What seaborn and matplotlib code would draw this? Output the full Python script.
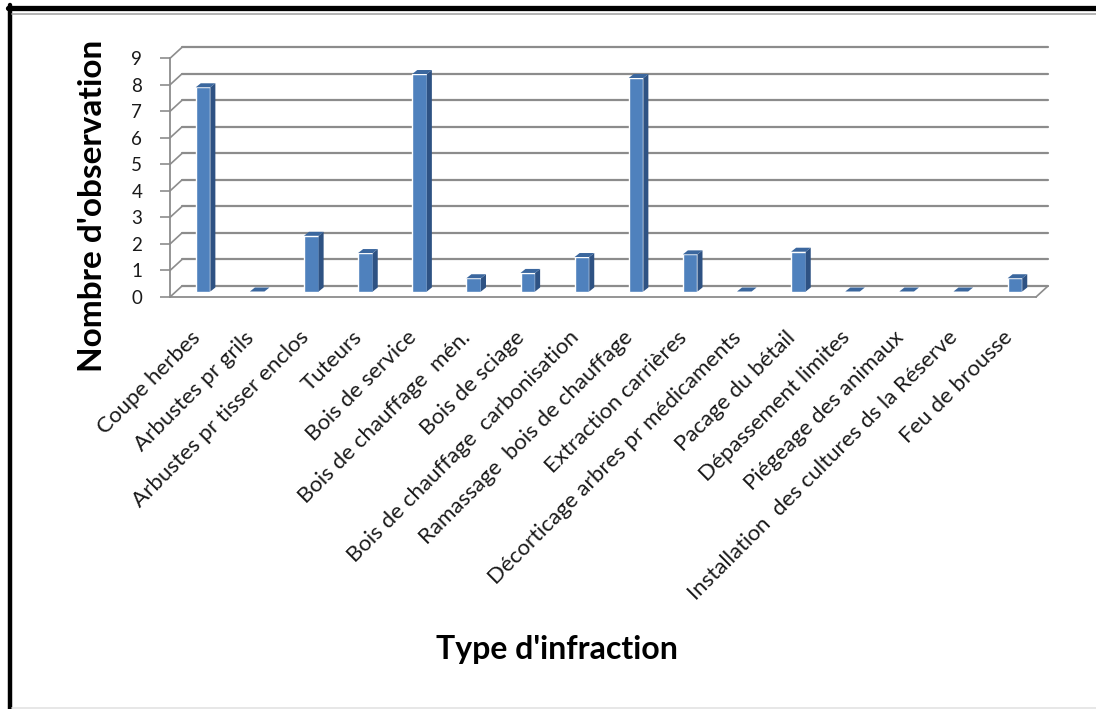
import numpy as np
import pandas as pd
import matplotlib
matplotlib.use('Agg')
import matplotlib.pyplot as plt
import seaborn as sns
from matplotlib.patches import Polygon
from matplotlib.lines import Line2D

# infractions observed
categories = ['Coupe herbes', 'Arbustes pr grils', 'Arbustes pr tisser enclos', 'Tuteurs',
              'Bois de service', 'Bois de chauffage  mén.', 'Bois de sciage',
              'Bois de chauffage  carbonisation', 'Ramassage  bois de chauffage',
              'Extraction carrières', 'Décorticage arbres pr médicaments', 'Pacage du bétail',
              'Dépassement limites', 'Piégeage des animaux',
              'Installation  des cultures ds la Réserve', 'Feu de brousse']
values = [7.7, 0, 2.1, 1.45, 8.2, 0.5, 0.7, 1.3, 8.05, 1.4, 0, 1.5, 0, 0, 0, 0.5]
yticks = list(range(10))

front = '#4F81BD'
side = '#2E5283'
top = '#3B679E'
grid_c = '#8C8C8C'

sns.set_style('white')
plt.rcParams['font.family'] = ['Lato', 'DejaVu Sans']

W, H = 1096, 709
fig = plt.figure(figsize=(W / 100, H / 100), dpi=100)
ax = fig.add_axes([170 / W, 1 - 297 / H, 866 / W, 238.7 / H])

df = pd.DataFrame({'cat': categories, 'val': values})
sns.barplot(data=df, x='cat', y='val', color=front, saturation=1, width=0.27, ax=ax)

ax.set_xlim(-0.5, len(categories) - 0.5)
ax.set_ylim(0, 9)

# depth of the fake 3d box (px -> data units)
px_x = (len(categories)) / 866
px_y = 9 / 238.7
dx, dy = 12 * px_x, 11 * px_y
bdx, bdy = 5 * px_x, 4 * px_y

# back wall gridlines + connectors to the front axis
for v in yticks:
    ax.plot([-0.5 + dx, len(categories) - 0.5 + dx], [v + dy, v + dy],
            color=grid_c, lw=1.6, clip_on=False, zorder=0)
    ax.plot([-0.5, -0.5 + dx], [v, v + dy], color=grid_c, lw=1.2, clip_on=False, zorder=0)
ax.plot([len(categories) - 0.5, len(categories) - 0.5 + dx], [0, dy],
        color=grid_c, lw=1.2, clip_on=False, zorder=0)

# bars sit half way into the box, add side and top faces
for p in ax.patches[:len(categories)]:
    p.set_x(p.get_x() + dx / 2)
    p.set_y(dy / 2)
    p.set_zorder(3)
    x0, w, h = p.get_x(), p.get_width(), p.get_height()
    y0 = dy / 2
    ax.add_patch(Polygon([(x0 + w, y0), (x0 + w + bdx, y0 + bdy), (x0 + w + bdx, y0 + h + bdy), (x0 + w, y0 + h)],
                         closed=True, facecolor=side, edgecolor='none', zorder=3, clip_on=False))
    ax.add_patch(Polygon([(x0, y0 + h), (x0 + w, y0 + h), (x0 + w + bdx, y0 + h + bdy), (x0 + bdx, y0 + h + bdy)],
                         closed=True, facecolor=top, edgecolor='none', zorder=3, clip_on=False))

for s in ['top', 'right']:
    ax.spines[s].set_visible(False)
for s in ['left', 'bottom']:
    ax.spines[s].set_color(grid_c)
    ax.spines[s].set_linewidth(1.3)

ax.set_yticks(yticks)
ax.set_yticklabels([str(t) for t in yticks], fontsize=13.5, color='#1a1a1a')
ax.tick_params(axis='y', length=7, width=1.2, color=grid_c, left=True, pad=13)
ax.tick_params(axis='x', length=0, pad=27)
ax.set_xticks(range(len(categories)))
ax.set_xticklabels(categories, rotation=45, ha='right', va='center', rotation_mode='anchor',
                   fontsize=16, color='#1a1a1a')
ax.set_xlabel('')
ax.set_ylabel('')

fig.text(93 / W, 1 - 206 / H, "Nombre d'observation", rotation=90, ha='center', va='center',
         fontsize=24, fontweight='bold', color='black')
fig.text(557 / W, 1 - 649 / H, "Type d'infraction", ha='center', va='center',
         fontsize=23, fontweight='bold', color='black')

# screenshot frame
fig.add_artist(Line2D([8 / W, 1], [1 - 7.5 / H, 1 - 7.5 / H], color='black', lw=3.8))
fig.add_artist(Line2D([10 / W, 10 / W], [0, 1 - 5 / H], color='black', lw=3.2))
fig.add_artist(Line2D([12 / W, 1], [1 - 14 / H, 1 - 14 / H], color='#A6A6A6', lw=1.2))
fig.add_artist(Line2D([12 / W, 1], [1.5 / H, 1.5 / H], color='#E3E3E3', lw=1.2))

plt.savefig('out.png', dpi=100)
